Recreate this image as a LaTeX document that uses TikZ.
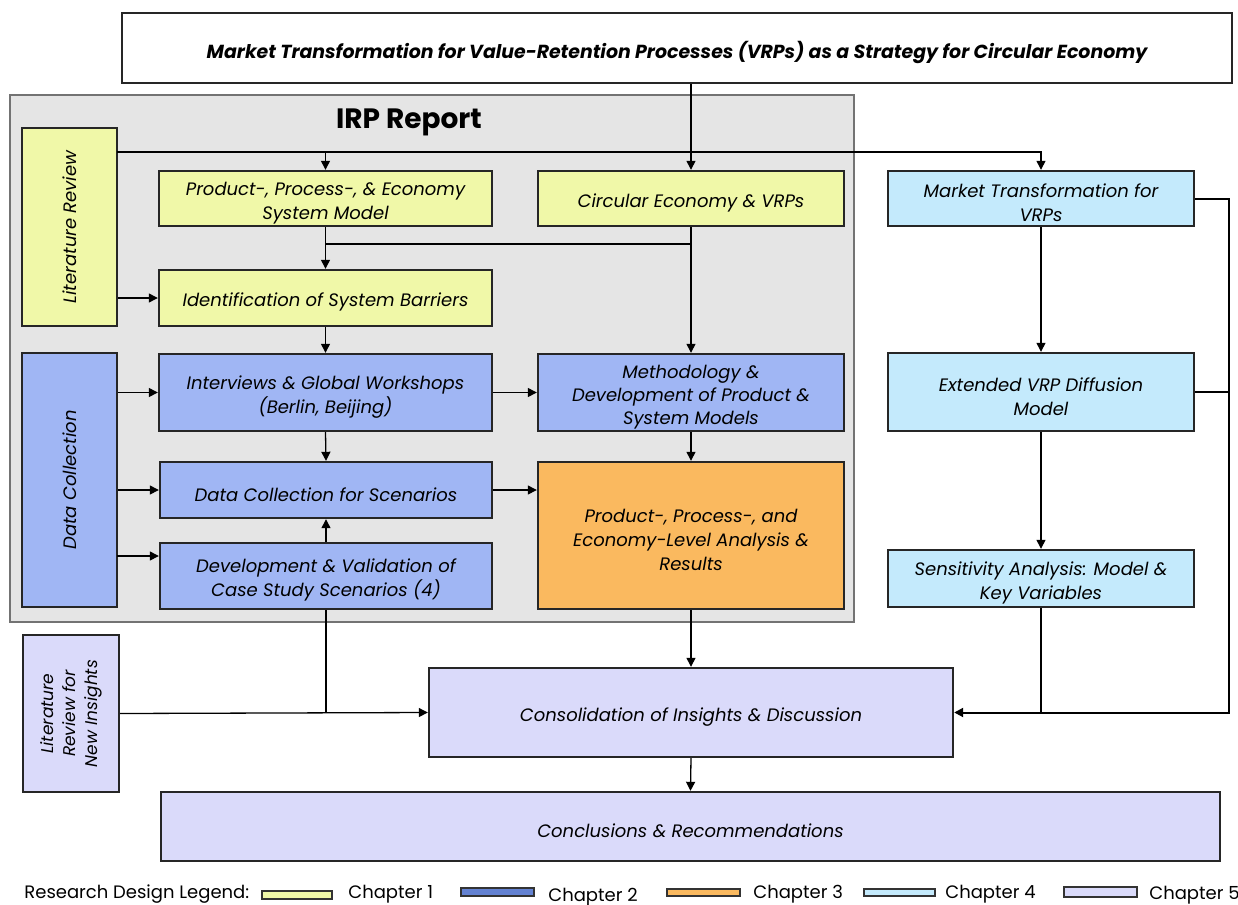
\documentclass[tikz,border=0pt]{standalone}
\usepackage{fontspec}
\setmainfont{Poppins}
\usetikzlibrary{arrows.meta}

\definecolor{chyellow}{RGB}{240,248,168}
\definecolor{chblue}{RGB}{160,182,244}
\definecolor{chorange}{RGB}{250,185,95}
\definecolor{chlight}{RGB}{196,234,252}
\definecolor{chlav}{RGB}{218,218,250}
\definecolor{irpgray}{RGB}{229,229,229}
\definecolor{swblue}{RGB}{100,130,210}

% \rbox[style]{name}{x1}{y1}{x2}{y2}{text}: a box spanning two corners,
% with its label set slightly below the geometric centre
\newcommand\rbox[7][]{%
  \node[box,#1,minimum width={(#5-#3)*0.5pt},minimum height={(#6-#4)*0.5pt}]
    (#2) at ({(#3+#5)/2},{(#4+#6)/2}) {};
  \node[boxtext,#1,draw=none,fill=none] (#2-label) at ([yshift=-2.2pt]#2.center) {#7};}

\begin{document}
\begin{tikzpicture}[x=0.5pt,y=-0.5pt,
  box/.style={draw=black!85,line width=1.2pt,inner sep=0pt},
  boxtext/.style={inner sep=0pt,align=center,font=\fontsize{9}{12}\selectfont\itshape},
  arr/.style={draw=black,line width=0.65pt,-{Triangle[length=4.5pt,width=4.5pt]}},
  ln/.style={draw=black,line width=0.65pt},
  swatch/.style={draw=black!80,line width=0.9pt},
  legtext/.style={anchor=west,inner sep=0pt,font=\fontsize{9}{10}\selectfont}]
\useasboundingbox (0,0) rectangle (1238,905);

% title and report frame
\rbox[fill=white,font=\fontsize{9.45}{12}\selectfont\bfseries\itshape]{title}{122}{13}{1232}{83}
  {Market Transformation for Value-Retention Processes (VRPs) as a Strategy for Circular Economy}
\rbox[draw=black!55,line width=1pt,fill=irpgray]{irp}{10}{95}{854}{622}{}
\node[font=\fontsize{14}{16}\selectfont\bfseries] (irplabel) at (409,122) {IRP Report};

% chapter 1
\rbox[fill=chyellow]{litrev}{22}{128}{117}{326}{}
\node[rotate=90,font=\fontsize{9}{12}\selectfont\itshape] (litrevtxt) at (litrev.center) {Literature Review};
\rbox[fill=chyellow]{pm}{159}{171}{492}{226}{Product-, Process-, \& Economy\\System Model}
\rbox[fill=chyellow]{ce}{538}{171}{844}{226}{Circular Economy \& VRPs}
\rbox[fill=chyellow]{isb}{159}{270}{492}{326}{Identification of System Barriers}

% chapter 2
\rbox[fill=chblue]{dc}{22}{353}{117}{607}{}
\node[rotate=90,font=\fontsize{9}{12}\selectfont\itshape] (dctxt) at (dc.center) {Data Collection};
\rbox[fill=chblue]{iw}{159}{354}{492}{431}{Interviews \& Global Workshops\\(Berlin, Beijing)}
\rbox[fill=chblue,font=\fontsize{9}{11.5}\selectfont\itshape]{meth}{538}{354}{844}{431}{Methodology \&\\Development of Product \&\\System Models}
\rbox[fill=chblue]{dcs}{160}{462}{492}{518}{Data Collection for Scenarios}
\rbox[fill=chblue]{dev}{160}{543}{492}{609}{Development \& Validation of\\Case Study Scenarios (4)}

% chapter 3
\rbox[fill=chorange]{res}{538}{462}{844}{609}{Product-, Process-, and\\Economy-Level Analysis \&\\Results}

% chapter 4
\rbox[fill=chlight]{mt}{888}{171}{1194}{226}{Market Transformation for\\VRPs}
\rbox[fill=chlight]{ext}{888}{353}{1194}{431}{Extended VRP Diffusion\\Model}
\rbox[fill=chlight]{sens}{888}{550}{1194}{607}{Sensitivity Analysis: Model \&\\Key Variables}

% chapter 5
\rbox[fill=chlav]{lrni}{23}{635}{119}{792}{}
\node[rotate=90,align=center,font=\fontsize{8.5}{11}\selectfont\itshape] (lrnitxt) at (lrni.center) {Literature\\Review for\\New Insights};
\rbox[fill=chlav]{cons}{429}{668}{953}{757}{Consolidation of Insights \& Discussion}
\rbox[fill=chlav]{concl}{161}{792}{1220}{861}{Conclusions \& Recommendations}

% helper points for the bus lines
\coordinate (lrtop) at (117,152);
\coordinate (rbx) at (1229,0);
\coordinate (pmbranch) at (326,244);
\coordinate (dcdev) at (117,556);

% connectors
\draw[arr] (ce.north |- title.south) -- (ce.north);
\draw[arr] (lrtop) -| (mt.north);
\draw[arr] (pm.north |- lrtop) -- (pm.north);
\draw[arr] (pm.south) -- (isb.north);
\draw[ln] (pmbranch) -- (pmbranch -| ce.south);
\draw[arr] (ce.south) -- (meth.north);
\draw[arr] (litrev.east |- isb.west) -- (isb.west);
\draw[arr] (isb.south) -- (iw.north);
\draw[arr] (dc.east |- iw.west) -- (iw.west);
\draw[arr] (dc.east |- dcs.west) -- (dcs.west);
\draw[arr] (dcdev) -- (dcdev -| dev.west);
\draw[arr] (iw.east) -- (iw.east -| meth.west);
\draw[arr] (iw.south) -- (dcs.north);
\draw[arr] (dev.north) -- (dcs.south);
\draw[arr] (dcs.east) -- (dcs.east -| res.west);
\draw[arr] (meth.south) -- (res.north);
\draw[arr] (mt.south) -- (ext.north);
\draw[arr] (ext.south) -- (sens.north);
\draw[arr,line width=1pt] (mt.east) -- (mt.east -| rbx) -- (rbx |- cons.east) -- (cons.east);
\draw[ln,line width=1pt] (ext.east) -- (ext.east -| rbx);
\draw[ln] (sens.south) -- (sens.south |- cons.east);
\draw[arr] (res.south) -- (cons.north);
\draw[arr] (lrni.east) -- (cons.west);
\draw[ln] (dev.south) -- (dev.south |- cons.west);
\draw[arr] (cons.south) -- (concl.north);

% legend
\node[legtext] (legtitle) at (24,894) {Research Design Legend:};
\rbox[swatch,fill=chyellow]{sw1}{262}{891}{332}{899}{}
\node[legtext] (lg1) at (348,894) {Chapter 1};
\rbox[swatch,fill=swblue]{sw2}{461}{888}{534}{896}{}
\node[legtext] (lg2) at (548,897) {Chapter 2};
\rbox[swatch,fill=chorange]{sw3}{667}{889}{740}{896}{}
\node[legtext] (lg3) at (753,894) {Chapter 3};
\rbox[swatch,fill=chlight]{sw4}{864}{889}{935}{896}{}
\node[legtext] (lg4) at (945,894) {Chapter 4};
\rbox[swatch,fill=chlav]{sw5}{1064}{887}{1137}{897}{}
\node[legtext] (lg5) at (1149,895) {Chapter 5};
\end{tikzpicture}
\end{document}
